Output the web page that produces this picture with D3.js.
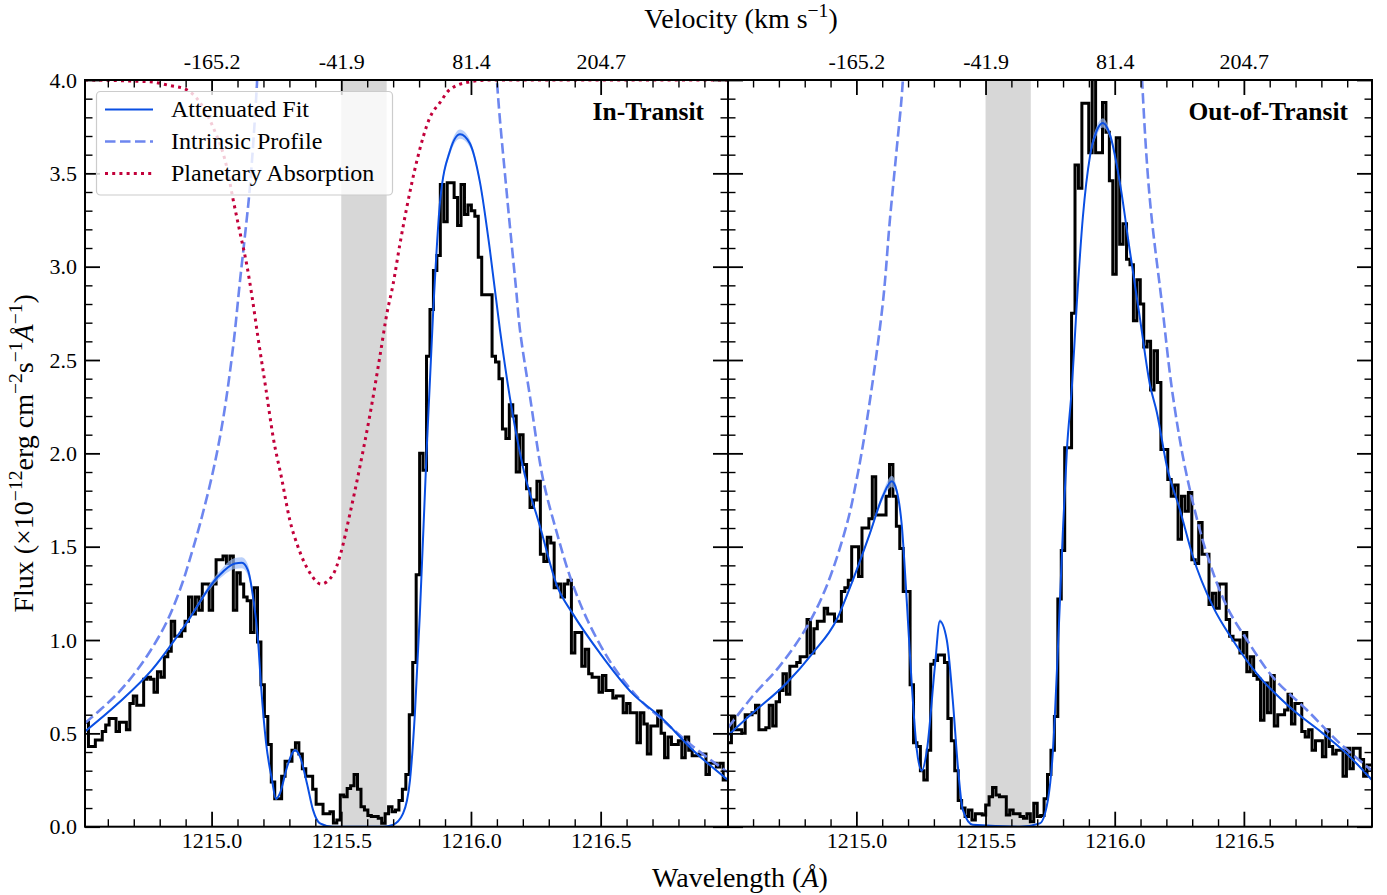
<!DOCTYPE html>
<html>
<head>
<meta charset="utf-8">
<script src="https://cdn.jsdelivr.net/npm/d3@7"></script>
<style>
body { margin: 0; background: #fff; }
</style>
</head>
<body>
<script>
var serif = '"Liberation Serif", "DejaVu Serif", serif';

// spectra, binned (flux in 1e-12 erg/cm2/s/A)
var binWidth = 0.0133;
var inStart = 1214.512,
    outStart = 1214.503;

var fluxIn = [0.56,0.43,0.43,0.465,0.465,0.51,0.545,0.58,0.58,0.51,
  0.56,0.56,0.52,0.66,0.70,0.65,0.65,0.79,0.80,0.79,
  0.72,0.83,0.80,0.91,0.94,1.10,1.02,1.02,1.05,1.10,
  1.23,1.14,1.23,1.16,1.30,1.30,1.16,1.30,1.43,1.43,
  1.45,1.41,1.45,1.16,1.36,1.30,1.23,1.21,1.04,1.28,
  0.99,0.76,0.59,0.44,0.24,0.15,0.15,0.27,0.35,0.35,
  0.41,0.45,0.39,0.31,0.27,0.27,0.20,0.12,0.12,0.07,
  0.07,0.08,0.02,0.036,0.17,0.16,0.205,0.22,0.28,0.20,
  0.107,0.09,0.06,0.054,0.054,0.045,0.018,0.07,0.107,0.08,
  0.09,0.14,0.20,0.28,0.60,0.88,1.35,2.0,1.91,2.52,
  2.77,2.98,3.06,3.44,3.24,3.45,3.45,3.37,3.22,3.44,
  3.28,3.33,3.30,3.27,3.05,2.85,2.85,2.85,2.52,2.49,
  2.40,2.13,2.08,2.26,2.20,1.90,2.10,1.94,1.81,1.71,
  1.75,1.85,1.46,1.42,1.55,1.52,1.28,1.30,1.23,1.30,
  1.32,0.93,1.04,1.04,0.86,0.95,0.82,0.80,0.80,0.72,
  0.81,0.73,0.73,0.69,0.70,0.70,0.61,0.66,0.61,0.61,
  0.45,0.61,0.55,0.39,0.54,0.54,0.62,0.50,0.37,0.48,
  0.44,0.44,0.46,0.37,0.48,0.41,0.38,0.38,0.39,0.39,
  0.28,0.34,0.34,0.32,0.34,0.25,0.25];

var fluxOut = [0.45,0.59,0.52,0.52,0.50,0.60,0.60,0.61,0.65,0.52,
  0.52,0.53,0.65,0.54,0.67,0.73,0.82,0.71,0.86,0.86,
  0.88,0.91,0.91,1.11,0.93,1.06,1.10,1.10,1.17,1.14,
  1.14,1.10,1.10,1.26,1.28,1.32,1.50,1.50,1.34,1.60,
  1.60,1.65,1.875,1.67,1.67,1.67,1.77,1.94,1.77,1.61,
  1.49,1.26,1.26,0.76,0.45,0.43,0.30,0.25,0.41,0.87,
  0.89,0.92,0.92,0.88,0.58,0.46,0.30,0.14,0.10,0.054,
  0.09,0.036,0.07,0.07,0.063,0.116,0.16,0.21,0.17,0.16,
  0.16,0.063,0.09,0.07,0.07,0.054,0.045,0.07,0.027,0.125,
  0.054,0.06,0.15,0.28,0.41,0.59,1.22,1.48,2.03,2.03,
  2.75,3.545,3.42,3.875,3.875,3.61,4.05,3.61,3.61,3.88,
  3.72,3.46,2.96,3.69,3.12,3.23,3.04,3.01,2.71,2.93,
  2.80,2.57,2.60,2.34,2.55,2.38,2.02,2.02,1.86,1.77,
  1.83,1.54,1.77,1.69,1.79,1.43,1.41,1.63,1.46,1.46,
  1.19,1.25,1.17,1.30,1.30,1.11,1.02,1.00,1.00,0.93,
  1.04,0.83,0.91,0.81,0.79,0.57,0.77,0.61,0.81,0.54,
  0.60,0.60,0.625,0.71,0.55,0.66,0.66,0.51,0.48,0.52,
  0.41,0.46,0.46,0.375,0.52,0.43,0.39,0.41,0.41,0.27,
  0.42,0.31,0.42,0.42,0.36,0.27,0.33,0.33];

// model curves
var fitInWave = [1214.512,1214.639,1214.770,1214.898,1215.025,1215.090,1215.117,1215.140,1215.160,1215.179,
  1215.191,1215.210,1215.233,1215.248,1215.264,1215.291,1215.322,1215.341,1215.368,1215.391,
  1215.418,1215.468,1215.661,1215.699,1215.738,1215.765,1215.784,1215.803,1215.830,1215.854,
  1215.881,1215.919,1215.958,1215.996,1216.035,1216.073,1216.112,1216.150,1216.200,1216.266,
  1216.332,1216.393,1216.497,1216.625,1216.729,1216.856,1216.991];
var fitInFlux = [0.51,0.66,0.84,1.08,1.34,1.41,1.414,1.375,1.23,1.00,
  0.75,0.45,0.25,0.15,0.18,0.32,0.41,0.375,0.23,0.09,
  0.018,0.0,0.0,0.01,0.07,0.25,0.61,1.14,2.04,2.75,
  3.35,3.62,3.71,3.66,3.45,3.09,2.66,2.30,1.93,1.61,
  1.29,1.14,0.93,0.71,0.59,0.41,0.25];
var fitInErr = [0.006,0.006,0.006,0.008,0.02,0.03,0.03,0.03,0.02,0.006,
  0.006,0.006,0.006,0.006,0.006,0.006,0.008,0.008,0.006,0.006,
  0.004,0.004,0.004,0.004,0.004,0.006,0.006,0.006,0.006,0.008,
  0.015,0.02,0.025,0.02,0.015,0.008,0.006,0.006,0.006,0.006,
  0.006,0.006,0.006,0.006,0.006,0.006,0.006];

var intrInWave = [1214.512,1214.570,1214.635,1214.697,1214.763,1214.828,1214.886,1214.924,1214.955,1215.005,
  1215.044,1215.083,1215.110,1215.129,1215.148,1215.175,1215.194,1216.081,1216.100,1216.139,
  1216.174,1216.189,1216.228,1216.278,1216.332,1216.382,1216.448,1216.548,1216.652,1216.740,
  1216.856,1216.991];
var intrInFlux = [0.555,0.625,0.71,0.81,0.94,1.10,1.30,1.47,1.62,1.90,
  2.18,2.57,2.93,3.17,3.43,3.98,4.6,4.6,4.0,3.38,
  2.88,2.66,2.30,1.86,1.57,1.34,1.11,0.86,0.68,0.57,
  0.43,0.29];

var planetWave = [1214.512,1214.763,1214.840,1214.901,1214.955,1215.005,1215.059,1215.083,1215.110,1215.137,
  1215.156,1215.179,1215.210,1215.237,1215.271,1215.302,1215.333,1215.379,1215.422,1215.468,
  1215.495,1215.534,1215.572,1215.611,1215.649,1215.676,1215.699,1215.726,1215.753,1215.792,
  1215.842,1215.881,1215.919,1215.996,1216.073,1216.991];
var planetFlux = [4.0,3.99,3.97,3.95,3.88,3.75,3.53,3.36,3.18,3.00,
  2.84,2.62,2.34,2.09,1.86,1.64,1.50,1.36,1.30,1.35,
  1.45,1.68,1.93,2.21,2.52,2.75,2.90,3.12,3.32,3.57,
  3.80,3.88,3.95,3.99,4.0,4.0];

var fitOutWave = [1214.503,1214.599,1214.730,1214.831,1214.924,1214.986,1215.052,1215.102,1215.137,1215.156,
  1215.176,1215.195,1215.214,1215.234,1215.253,1215.273,1215.304,1215.323,1215.350,1215.373,
  1215.393,1215.412,1215.451,1215.633,1215.710,1215.741,1215.761,1215.780,1215.799,1215.815,
  1215.834,1215.854,1215.877,1215.904,1215.931,1215.954,1215.981,1216.020,1216.058,1216.097,
  1216.136,1216.163,1216.202,1216.252,1216.302,1216.380,1216.457,1216.550,1216.678,1216.806,
  1216.899,1216.996];
var fitOutFlux = [0.49,0.61,0.77,0.93,1.11,1.32,1.57,1.77,1.85,1.80,
  1.61,1.21,0.77,0.41,0.30,0.41,0.86,1.10,1.00,0.68,
  0.32,0.09,0.01,0.0,0.018,0.14,0.41,0.95,1.57,2.02,
  2.35,2.82,3.27,3.59,3.73,3.77,3.71,3.45,3.09,2.73,
  2.37,2.22,1.93,1.70,1.45,1.18,1.00,0.82,0.64,0.50,
  0.39,0.25];
var fitOutErr = [0.006,0.006,0.006,0.006,0.008,0.01,0.012,0.02,0.03,0.02,
  0.01,0.006,0.006,0.006,0.006,0.006,0.01,0.012,0.01,0.006,
  0.006,0.004,0.004,0.004,0.004,0.006,0.006,0.006,0.006,0.008,
  0.01,0.012,0.015,0.02,0.025,0.025,0.02,0.015,0.01,0.008,
  0.006,0.006,0.006,0.006,0.006,0.006,0.006,0.006,0.006,0.006,
  0.006,0.006];

var intrOutWave = [1214.503,1214.599,1214.703,1214.808,1214.885,1214.963,1215.001,1215.040,1215.102,1215.129,
  1215.156,1215.179,1215.195,1216.090,1216.106,1216.136,1216.183,1216.225,1216.279,1216.357,
  1216.434,1216.512,1216.613,1216.744,1216.872,1216.996];
var intrOutFlux = [0.53,0.70,0.86,1.07,1.29,1.62,1.86,2.17,2.80,3.24,
  3.63,3.98,4.6,4.6,4.0,3.36,2.80,2.31,1.88,1.46,
  1.18,1.00,0.80,0.625,0.446,0.30];

// masked geocoronal core
var maskBand = [1215.5, 1215.675];

// ticks
var majorWave = [1215.0, 1215.5, 1216.0, 1216.5];
var velocityLabels = ["-165.2", "-41.9", "81.4", "204.7"];
var minorWave = [1214.6,1214.7,1214.8,1214.9,1215.1,1215.2,1215.3,1215.4,1215.6,1215.7,
  1215.8,1215.9,1216.1,1216.2,1216.3,1216.4,1216.6,1216.7,1216.8,1216.9];
var fluxMajor = [0, 0.5, 1.0, 1.5, 2.0, 2.5, 3.0, 3.5, 4.0];
var fluxMinor = [0.1,0.2,0.3,0.4,0.6,0.7,0.8,0.9,1.1,1.2,1.3,1.4,1.6,1.7,1.8,1.9,
  2.1,2.2,2.3,2.4,2.6,2.7,2.8,2.9,3.1,3.2,3.3,3.4,3.6,3.7,3.8,3.9];

var fitColor = "#0a4fe3",
    intrColor = "#6d86ef",
    planetColor = "#c2003a";

var width = 1387,
    height = 895,
    plotTop = 80,
    plotBottom = 826.7;

var svg = d3.select("body").append("svg")
    .attr("width", width)
    .attr("height", height)
    .style("font-family", serif);

var y = d3.scaleLinear()
    .domain([0, 4])
    .range([plotBottom, plotTop]);

var panels = [
  {id: "in", left: 85, right: 728, domain: [1214.512, 1216.991], start: inStart, flux: fluxIn,
   fitWave: fitInWave, fitFlux: fitInFlux, fitErr: fitInErr,
   intrWave: intrInWave, intrFlux: intrInFlux, planet: true, label: "In-Transit", yLabels: true},
  {id: "out", left: 728, right: 1372, domain: [1214.503, 1216.996], start: outStart, flux: fluxOut,
   fitWave: fitOutWave, fitFlux: fitOutFlux, fitErr: fitOutErr,
   intrWave: intrOutWave, intrFlux: intrOutFlux, planet: false, label: "Out-of-Transit", yLabels: false}
];

function blank() { return ""; }

function tickStyle(sel, w) {
  sel.attr("font-family", serif).attr("font-size", 22);
  sel.select(".domain").remove();
  sel.selectAll(".tick line").attr("stroke", "#000").attr("stroke-width", w);
}

function drawPanel(p) {
  var x = d3.scaleLinear().domain(p.domain).range([p.left, p.right]);
  var g = svg.append("g").attr("class", "panel-" + p.id);

  g.append("clipPath").attr("id", "clip-" + p.id)
    .append("rect")
      .attr("x", p.left).attr("y", plotTop)
      .attr("width", p.right - p.left).attr("height", plotBottom - plotTop);

  var plot = g.append("g").attr("clip-path", "url(#clip-" + p.id + ")");

  plot.append("rect")
      .attr("x", x(maskBand[0]))
      .attr("y", plotTop)
      .attr("width", x(maskBand[1]) - x(maskBand[0]))
      .attr("height", plotBottom - plotTop)
      .attr("fill", "#d7d7d7");

  var bins = p.flux.map(function(f, i) { return [p.start + i * binWidth, f]; });
  bins.push([p.start + p.flux.length * binWidth, p.flux[p.flux.length - 1]]);

  var step = d3.line()
      .x(function(d) { return x(d[0]); })
      .y(function(d) { return y(d[1]); })
      .curve(d3.curveStepAfter);

  var smooth = d3.line()
      .x(function(d) { return x(d[0]); })
      .y(function(d) { return y(d[1]); })
      .curve(d3.curveMonotoneX);

  var soft = d3.line()
      .x(function(d) { return x(d[0]); })
      .y(function(d) { return y(d[1]); })
      .curve(d3.curveCatmullRom.alpha(0.5));

  plot.append("path")
      .datum(bins)
      .attr("d", step)
      .attr("fill", "none")
      .attr("stroke", "#000")
      .attr("stroke-width", 3);

  plot.append("path")
      .datum(d3.zip(p.intrWave, p.intrFlux))
      .attr("d", soft)
      .attr("fill", "none")
      .attr("stroke", intrColor)
      .attr("stroke-width", 2.6)
      .attr("stroke-dasharray", "10.5,4.5");

  if (p.planet) {
    plot.append("path")
        .datum(d3.zip(planetWave, planetFlux))
        .attr("d", smooth)
        .attr("fill", "none")
        .attr("stroke", planetColor)
        .attr("stroke-width", 3)
        .attr("stroke-dasharray", "3,4.2");
  }

  var fit = d3.zip(p.fitWave, p.fitFlux, p.fitErr);
  var band = d3.area()
      .x(function(d) { return x(d[0]); })
      .y0(function(d) { return y(d[1] - d[2]); })
      .y1(function(d) { return y(d[1] + d[2]); })
      .curve(d3.curveMonotoneX);

  plot.append("path")
      .datum(fit)
      .attr("d", band)
      .attr("fill", "#9dbcf8")
      .attr("opacity", 0.7);

  plot.append("path")
      .datum(fit)
      .attr("d", smooth)
      .attr("fill", "none")
      .attr("stroke", fitColor)
      .attr("stroke-width", 2);

  // axes, ticks inward on all four sides
  g.append("g").attr("transform", "translate(0," + plotBottom + ")")
      .call(d3.axisBottom(x).tickValues(minorWave).tickSize(-7.5).tickFormat(blank))
      .call(tickStyle, 1.4);
  g.append("g").attr("transform", "translate(0," + plotBottom + ")")
      .call(d3.axisBottom(x).tickValues(majorWave).tickSize(-15).tickPadding(6).tickFormat(d3.format(".1f")))
      .call(tickStyle, 1.8);

  g.append("g").attr("transform", "translate(0," + plotTop + ")")
      .call(d3.axisTop(x).tickValues(minorWave).tickSize(-7.5).tickFormat(blank))
      .call(tickStyle, 1.4);
  g.append("g").attr("transform", "translate(0," + plotTop + ")")
      .call(d3.axisTop(x).tickValues(majorWave).tickSize(-15).tickPadding(11)
        .tickFormat(function(d, i) { return velocityLabels[i]; }))
      .call(tickStyle, 1.8);

  g.append("g").attr("transform", "translate(" + p.left + ",0)")
      .call(d3.axisLeft(y).tickValues(fluxMinor).tickSize(-7.5).tickFormat(blank))
      .call(tickStyle, 1.4);
  g.append("g").attr("transform", "translate(" + p.left + ",0)")
      .call(d3.axisLeft(y).tickValues(fluxMajor).tickSize(-15).tickPadding(8)
        .tickFormat(p.yLabels ? d3.format(".1f") : blank))
      .call(tickStyle, 1.8);

  g.append("g").attr("transform", "translate(" + p.right + ",0)")
      .call(d3.axisRight(y).tickValues(fluxMinor).tickSize(-7.5).tickFormat(blank))
      .call(tickStyle, 1.4);
  g.append("g").attr("transform", "translate(" + p.right + ",0)")
      .call(d3.axisRight(y).tickValues(fluxMajor).tickSize(-15).tickFormat(blank))
      .call(tickStyle, 1.8);

  g.append("rect")
      .attr("x", p.left).attr("y", plotTop)
      .attr("width", p.right - p.left).attr("height", plotBottom - plotTop)
      .attr("fill", "none")
      .attr("stroke", "#000")
      .attr("stroke-width", 2);

  g.append("text")
      .attr("x", p.right - 24)
      .attr("y", 120)
      .attr("text-anchor", "end")
      .attr("font-size", 25.5)
      .attr("font-weight", "bold")
      .text(p.label);
}

panels.forEach(drawPanel);

// legend (in-transit panel)
var legendItems = [
  {name: "Attenuated Fit", color: fitColor, width: 2, dash: null},
  {name: "Intrinsic Profile", color: intrColor, width: 2.6, dash: "10.5,4.5"},
  {name: "Planetary Absorption", color: planetColor, width: 3, dash: "3,4.2"}
];

var legend = svg.append("g").attr("class", "legend");
legend.append("rect")
    .attr("x", 96.5).attr("y", 91.5)
    .attr("width", 296).attr("height", 103.5)
    .attr("rx", 4)
    .attr("fill", "#fff")
    .attr("fill-opacity", 0.8)
    .attr("stroke", "#cccccc")
    .attr("stroke-width", 1.2);

legendItems.forEach(function(d, i) {
  var ly = 109.5 + i * 32;
  legend.append("line")
      .attr("x1", 105).attr("x2", 153)
      .attr("y1", ly).attr("y2", ly)
      .attr("stroke", d.color)
      .attr("stroke-width", d.width)
      .attr("stroke-dasharray", d.dash);
  legend.append("text")
      .attr("x", 171).attr("y", ly)
      .attr("dy", "0.33em")
      .attr("font-size", 24)
      .text(d.name);
});

// axis titles with superscripts
function richText(sel, parts, size) {
  var shift = size * 0.38, up = false;
  parts.forEach(function(p) {
    var t = sel.append("tspan").text(p.t);
    if (p.sup && !up) { t.attr("dy", -shift); up = true; }
    else if (!p.sup && up) { t.attr("dy", shift); up = false; }
    if (p.sup) t.attr("font-size", size * 0.7);
    if (p.it) t.attr("font-style", "italic");
  });
}

richText(svg.append("text")
    .attr("x", 741).attr("y", 28)
    .attr("text-anchor", "middle")
    .attr("font-size", 28),
  [{t: "Velocity (km s"}, {t: "\u22121", sup: true}, {t: ")"}], 28);

richText(svg.append("text")
    .attr("x", 740).attr("y", 887)
    .attr("text-anchor", "middle")
    .attr("font-size", 28),
  [{t: "Wavelength ("}, {t: "\u00c5", it: true}, {t: ")"}], 28);

richText(svg.append("text")
    .attr("transform", "translate(33," + ((plotTop + plotBottom) / 2) + ") rotate(-90)")
    .attr("text-anchor", "middle")
    .attr("font-size", 28),
  [{t: "Flux (\u00d710"}, {t: "\u221212", sup: true}, {t: "erg cm"}, {t: "\u22122", sup: true},
   {t: "s"}, {t: "\u22121", sup: true}, {t: "\u00c5", it: true}, {t: "\u22121", sup: true}, {t: ")"}], 28);
</script>
</body>
</html>
